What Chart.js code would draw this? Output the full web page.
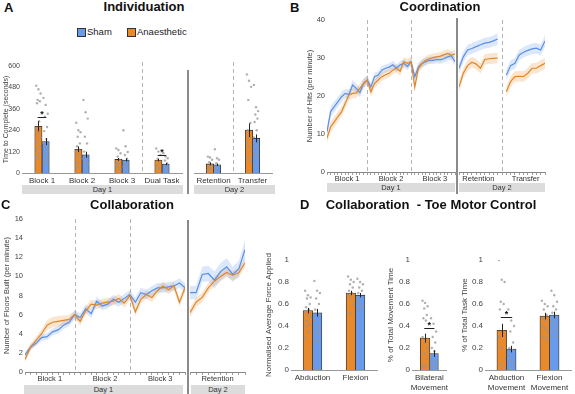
<!DOCTYPE html>
<html lang="en">
<head>
<meta charset="UTF-8">
<title>Toe motor learning</title>
<script src="https://cdn.jsdelivr.net/npm/chart.js@4"></script>
<style>
  body { margin: 0; background: #fff; font-family: "Liberation Sans", Arial, sans-serif; }
  #fig { position: relative; width: 575px; height: 394px; overflow: hidden; }
  .abs { position: absolute; }
  .letter { font-weight: bold; font-size: 13px; color: #111; }
  .title { font-weight: bold; font-size: 13px; color: #111; transform: translateX(-50%); white-space: nowrap; }
  .sep { background: #8a8a8a; width: 2px; }
  .day { background: #dcdcdc; font-size: 7.5px; color: #333; text-align: center; line-height: 9px; height: 9px; }
  .leg { font-size: 9.5px; color: #222; }
  .sw { width: 7px; height: 7px; border: 1px solid #333; }
</style>
</head>
<body>
<div id="fig"></div>
<script>
// ---- Panel A: Individuation (time to complete, seconds) ----
const catsA1 = ['Block 1', 'Block 2', 'Block 3', 'Dual Task'];
const anaesA1 = [262, 133, 76, 73];
const shamA1 = [176, 102, 73, 50];
const seAnaesA1 = [28, 16, 8, 7];
const seShamA1 = [20, 17, 9, 6];
const ptsAnaesA1 = [
  [489, 470, 446, 410, 402, 391, 290, 250, 225, 200, 175, 150, 130, 110, 90, 80],
  [282, 240, 229, 203, 166, 150, 130, 120, 100, 80, 60, 40, 30],
  [138, 129, 111, 92, 75, 60, 50, 40, 30, 20],
  [138, 120, 101, 80, 60, 40, 25]
];
const ptsShamA1 = [
  [421, 382, 332, 316, 258, 235, 190, 170, 150, 130, 110, 90, 70, 55],
  [410, 341, 305, 203, 166, 120, 100, 80, 60, 50, 30],
  [240, 150, 118, 101, 80, 60, 45, 35, 25],
  [111, 92, 83, 70, 55, 40, 25]
];
const catsA2 = ['Retention', 'Transfer'];
const anaesA2 = [51, 240];
const shamA2 = [46, 194];
const seAnaesA2 = [8, 38];
const seShamA2 = [7, 22];
const ptsAnaesA2 = [
  [92, 87, 74, 60, 45, 35, 25, 15],
  [553, 517, 483, 410, 280, 240, 201, 170, 150, 120, 90, 70]
];
const ptsShamA2 = [
  [133, 83, 74, 55, 40, 30, 20],
  [494, 369, 347, 328, 305, 286, 240, 200, 170, 140, 110, 90]
];
const ticksA = [0, 120, 240, 360, 480, 600];
const sigA1 = [{cat: 0, y: 312}, {cat: 3, y: 100}];

// ---- Panel B: Coordination (hits per minute) ----
const blocksB = ['Block 1', 'Block 2', 'Block 3'];
const shamB1 = [10.6, 15.9, 17.2, 18.5, 19.8, 20.7, 20.4, 22.9, 22.0, 20.9, 23.3, 24.2,
                22.4, 25.1, 25.5, 26.8, 27.3, 27.6, 28.2, 27.3, 28.2, 28.6, 27.8, 29.0,
                25.1, 27.7, 28.6, 29.0, 29.4, 29.4, 29.6, 29.5, 29.8, 30.3, 30.6, 29.0];
const anaesB1 = [8.9, 11.9, 13.2, 14.6, 15.9, 18.1, 20.3, 20.7, 20.8, 22.0, 23.3, 24.2,
                 21.1, 23.3, 24.2, 25.1, 25.6, 26.0, 26.8, 27.3, 26.5, 29.0, 28.6, 29.0,
                 22.4, 27.3, 28.5, 29.4, 29.8, 30.1, 30.3, 30.5, 30.9, 31.2, 30.7, 31.1];
const seShamB1 = [1.2, 1.5, 1.4, 1.3, 1.3, 1.2, 1.2, 1.3, 1.2, 1.2, 1.3, 1.2,
                  1.1, 1.1, 1.0, 1.1, 1.0, 1.0, 1.1, 1.0, 1.0, 1.1, 1.0, 1.0,
                  1.1, 1.0, 1.0, 1.0, 1.0, 1.0, 1.0, 1.0, 1.0, 1.0, 1.1, 1.1];
const seAnaesB1 = [1.2, 1.3, 1.4, 1.3, 1.3, 1.3, 1.4, 1.3, 1.3, 1.2, 1.2, 1.2,
                   1.3, 1.2, 1.2, 1.1, 1.1, 1.1, 1.1, 1.1, 1.2, 1.2, 1.2, 1.2,
                   1.3, 1.2, 1.1, 1.1, 1.1, 1.1, 1.1, 1.1, 1.1, 1.1, 1.1, 1.1];
const blocksB2 = ['Retention', 'Transfer'];
const shamBRet = [27.3, 30.3, 32.1, 32.5, 33.0, 33.5, 33.9, 34.1, 34.5, 35.0];
const anaesBRet = [22.4, 26.0, 28.0, 28.9, 28.4, 27.3, 29.6, 29.8, 29.9, 30.0];
const shamBTra = [25.5, 28.0, 28.6, 30.8, 31.5, 32.0, 32.4, 32.6, 32.1, 34.5];
const anaesBTra = [21.1, 23.8, 25.1, 25.2, 25.1, 26.0, 27.3, 27.3, 28.0, 28.6];
const seShamB2 = [1.4, 1.4, 1.4, 1.4, 1.4, 1.4, 1.4, 1.4, 1.4, 1.5];
const seAnaesB2 = [1.4, 1.4, 1.4, 1.4, 1.4, 1.4, 1.4, 1.4, 1.4, 1.4];
const ticksB = [0, 10, 20, 30, 40];

// ---- Panel C: Collaboration (floors built per minute) ----
const blocksC = ['Block 1', 'Block 2', 'Block 3'];
const shamC1 = [1.8, 2.6, 3.0, 3.6, 3.7, 4.2, 4.4, 4.9, 5.2, 6.0,
                5.7, 6.6, 6.1, 7.4, 6.9, 7.1, 7.6, 7.3, 7.7, 8.1,
                7.3, 8.3, 8.1, 8.5, 8.8, 8.8, 8.9, 9.0, 9.3, 8.8];
const anaesC1 = [1.3, 2.6, 3.3, 4.0, 4.9, 5.2, 5.3, 5.4, 5.5, 6.0,
                 5.3, 6.4, 7.1, 7.0, 7.2, 7.3, 7.4, 7.7, 7.2, 8.0,
                 6.3, 7.6, 8.1, 7.8, 8.5, 9.0, 8.6, 9.0, 7.3, 8.8];
const seShamC1 = [0.3, 0.3, 0.3, 0.35, 0.35, 0.35, 0.4, 0.4, 0.4, 0.45,
                  0.45, 0.45, 0.45, 0.45, 0.45, 0.45, 0.45, 0.45, 0.45, 0.45,
                  0.5, 0.5, 0.5, 0.5, 0.5, 0.5, 0.5, 0.5, 0.5, 0.5];
const seAnaesC1 = [0.3, 0.35, 0.4, 0.45, 0.5, 0.55, 0.55, 0.5, 0.45, 0.4,
                   0.45, 0.45, 0.45, 0.45, 0.45, 0.45, 0.45, 0.45, 0.45, 0.45,
                   0.45, 0.45, 0.45, 0.45, 0.45, 0.45, 0.45, 0.45, 0.45, 0.45];
const shamCRet = [8.3, 8.3, 10.2, 10.3, 9.6, 10.5, 11.0, 10.2, 10.8, 12.8];
const anaesCRet = [6.2, 7.3, 7.8, 8.8, 9.5, 10.0, 10.4, 10.1, 10.4, 11.4];
const seShamC2 = [0.7, 0.7, 0.8, 0.8, 0.9, 0.9, 0.9, 0.8, 0.8, 1.0];
const seAnaesC2 = [0.5, 0.5, 0.5, 0.5, 0.5, 0.5, 0.5, 0.5, 0.5, 0.5];
const ticksC = [0, 2, 4, 6, 8, 10, 12, 14, 16];

// ---- Panel D: Toe motor control ----
const ticksD = [0, 0.2, 0.4, 0.6, 0.8, 1];
const catsD1 = ['Abduction', 'Flexion'];
const anaesD1 = [0.54, 0.70];
const shamD1 = [0.52, 0.68];
const seAnaesD1 = [0.025, 0.02];
const seShamD1 = [0.035, 0.02];
const ptsAnaesD1 = [
  [0.72, 0.68, 0.66, 0.65, 0.60, 0.57, 0.55, 0.53, 0.50, 0.48, 0.45, 0.42, 0.40, 0.35, 0.29],
  [0.85, 0.82, 0.80, 0.78, 0.75, 0.72, 0.70, 0.68, 0.65, 0.60, 0.52]
];
const ptsShamD1 = [
  [0.81, 0.72, 0.70, 0.65, 0.60, 0.55, 0.50, 0.45, 0.40, 0.38, 0.35, 0.32, 0.27, 0.26],
  [0.83, 0.80, 0.78, 0.75, 0.72, 0.70, 0.66, 0.63, 0.60, 0.58, 0.55]
];
const catsD2 = [['Bilateral', 'Movement']];
const anaesD2 = [0.29];
const shamD2 = [0.15];
const seAnaesD2 = [0.04];
const seShamD2 = [0.03];
const ptsAnaesD2 = [[0.63, 0.61, 0.58, 0.56, 0.50, 0.47, 0.45, 0.30, 0.25, 0.20, 0.15, 0.10, 0.05, 0.03, 0.02]];
const ptsShamD2 = [[0.47, 0.42, 0.35, 0.30, 0.25, 0.20, 0.17, 0.12, 0.08, 0.05, 0.03, 0.02]];
const sigD2 = [{cat: 0, y: 0.38}];
const catsD3 = [['Abduction', 'Movement'], ['Flexion', 'Movement']];
const anaesD3 = [0.36, 0.49];
const shamD3 = [0.19, 0.50];
const seAnaesD3 = [0.06, 0.03];
const seShamD3 = [0.03, 0.03];
const ptsAnaesD3 = [
  [1.0, 0.82, 0.80, 0.62, 0.60, 0.55, 0.35, 0.30, 0.20, 0.10, 0.05, 0.02, 0.0],
  [0.63, 0.60, 0.58, 0.55, 0.50, 0.47, 0.45, 0.40, 0.38, 0.35, 0.30, 0.28]
];
const ptsShamD3 = [
  [0.55, 0.45, 0.40, 0.35, 0.25, 0.20, 0.18, 0.12, 0.08, 0.05, 0.02],
  [0.72, 0.68, 0.62, 0.58, 0.55, 0.52, 0.48, 0.45, 0.42, 0.38, 0.35, 0.30]
];
const sigD3 = [{cat: 0, y: 0.48}];

const ORANGE = '#e8892b', BLUE = '#6a9bea';
const ORANGE_LINE = '#e0862a', BLUE_LINE = '#5b8fe6';
const ORANGE_BAND = 'rgba(236,160,80,0.28)', BLUE_BAND = 'rgba(110,160,235,0.25)';

Chart.defaults.font.family = '"Liberation Sans", Arial, sans-serif';
Chart.defaults.color = '#444';
Chart.defaults.animation = false;
Chart.defaults.plugins.legend.display = false;
Chart.defaults.plugins.tooltip.enabled = false;

const fig = document.getElementById('fig');
const fmt = v => String(Math.round(v * 10) / 10);

function makeCanvas(box) {
  const cv = document.createElement('canvas');
  cv.className = 'abs';
  cv.width = box.w; cv.height = box.h;
  cv.style.left = box.left + 'px';
  cv.style.top = box.top + 'px';
  fig.appendChild(cv);
  return cv.getContext('2d');
}

function yScale(box, ticks, title, size) {
  return {
    display: box.wy > 0,
    min: ticks[0], max: ticks[ticks.length - 1],
    afterBuildTicks: s => { s.ticks = ticks.map(v => ({value: v})); },
    afterFit: s => { s.width = box.wy; },
    grid: {display: false, drawTicks: false},
    border: {display: false},
    ticks: {font: {size: size}, padding: 2, color: '#444', callback: v => fmt(v)},
    title: {display: !!title, text: title, font: {size: size}, color: '#444', padding: {top: box.tp || 2, bottom: 0}}
  };
}

// bar panel: two bars per category with error bars and individual points
function barChart(box, d) {
  const ctx = makeCanvas(box);
  const n = d.cats.length;
  const half = d.catPct / 4;
  const areaW = box.w - box.wy - (box.pl || 0) - (box.pr || 0);
  const thick = areaW / n * d.catPct / 2;
  const groups = [
    {vals: d.anaes, se: d.seAnaes, pts: d.ptsAnaes, col: ORANGE, off: -half},
    {vals: d.sham, se: d.seSham, pts: d.ptsSham, col: BLUE, off: half}
  ];
  const datasets = [];
  groups.forEach(g => datasets.push({
    type: 'bar', data: g.vals.map((v, c) => ({x: c + g.off, y: v})),
    backgroundColor: g.col, borderColor: '#333', borderWidth: 0.8,
    barThickness: thick, grouped: false, order: 2, xAxisID: 'xs'
  }));
  groups.forEach(g => {
    const pts = [];
    g.pts.forEach((list, c) => list.forEach((v, i) => {
      const jit = (((i * 3) % 7) / 6 - 0.5) * half * 1.2;
      pts.push({x: c + g.off + jit, y: v});
    }));
    datasets.push({type: 'scatter', data: pts, xAxisID: 'xs', pointRadius: 1.2,
      backgroundColor: 'rgba(150,150,150,0.75)', borderWidth: 0, order: 1});
  });

  const decor = {
    id: 'decor',
    beforeDatasetsDraw(chart) {
      const c = chart.ctx, xs = chart.scales.xs, a = chart.chartArea;
      c.save();
      c.strokeStyle = '#b5b5b5'; c.lineWidth = 1; c.setLineDash([4, 3]);
      (d.dashes || []).forEach(v => {
        const px = Math.round(xs.getPixelForValue(v)) + 0.5;
        c.beginPath(); c.moveTo(px, a.top - 4); c.lineTo(px, a.bottom); c.stroke();
      });
      c.restore();
    },
    afterDatasetsDraw(chart) {
      const c = chart.ctx, ys = chart.scales.y, xs = chart.scales.xs;
      c.save();
      c.strokeStyle = '#222'; c.lineWidth = 1;
      groups.forEach(g => {
        g.vals.forEach((v, i) => {
          const px = Math.round(xs.getPixelForValue(i + g.off)) + 0.5;
          c.beginPath();
          c.moveTo(px, ys.getPixelForValue(v - g.se[i]));
          c.lineTo(px, ys.getPixelForValue(v + g.se[i]));
          c.stroke();
        });
      });
      c.fillStyle = '#111';
      c.font = 'bold 9px "Liberation Sans", Arial';
      c.textAlign = 'center'; c.textBaseline = 'middle';
      (d.sig || []).forEach(s => {
        const py = Math.round(ys.getPixelForValue(s.y)) + 0.5;
        const x0 = xs.getPixelForValue(s.cat - half * 1.2), x1 = xs.getPixelForValue(s.cat + half * 1.2);
        c.beginPath(); c.moveTo(x0, py); c.lineTo(x1, py); c.stroke();
        c.fillText('*', (x0 + x1) / 2, py - 3);
      });
      c.restore();
    }
  };

  return new Chart(ctx, {
    type: 'bar',
    data: {labels: d.cats, datasets: datasets},
    options: {
      responsive: false,
      layout: {padding: {left: box.pl || 0, right: box.pr || 0, top: box.pt || 0, bottom: 0}},
      scales: {
        x: {type: 'category', labels: d.cats, offset: true, grid: {display: false, drawTicks: false},
            border: {color: '#999', width: 1},
            ticks: {font: {size: d.xFont || 8}, padding: 3, color: '#333', maxRotation: 0, autoSkip: false},
            afterFit: s => { s.height = box.hx; }},
        xs: {type: 'linear', display: false, offset: false, grid: {offset: false},
             min: -0.5, max: n - 0.5},
        y: yScale(box, d.yTicks, d.yTitle, d.yFont || 7)
      }
    },
    plugins: [decor]
  });
}

// line panel: mean lines with SE bands, split into blocks
function lineChart(box, d) {
  const ctx = makeCanvas(box);
  const shamL = [], anaesL = [], shamU = [], shamLo = [], anaesU = [], anaesLo = [];
  const centers = [], dashes = [];
  let x = 1;
  d.segs.forEach((s, k) => {
    if (k > 0 && d.gap) {
      [shamL, anaesL, shamU, shamLo, anaesU, anaesLo].forEach(arr => arr.push({x: x, y: null}));
      dashes.push(x);
      x++;
    }
    const start = x;
    s.sham.forEach((v, i) => {
      shamL.push({x: x, y: v});
      anaesL.push({x: x, y: s.anaes[i]});
      shamU.push({x: x, y: v + s.seSham[i]});
      shamLo.push({x: x, y: v - s.seSham[i]});
      anaesU.push({x: x, y: s.anaes[i] + s.seAnaes[i]});
      anaesLo.push({x: x, y: s.anaes[i] - s.seAnaes[i]});
      x++;
    });
    centers.push((start + x - 1) / 2);
    if (!d.gap && k < d.segs.length - 1) dashes.push(x - 1);
  });
  const xmax = x - 1;
  const band = (data, col, fill) => ({data: data, borderWidth: 0, pointRadius: 0, fill: fill,
    backgroundColor: col, order: 3, spanGaps: false});
  const datasets = [
    band(shamU, BLUE_BAND, '+1'), band(shamLo, BLUE_BAND, false),
    band(anaesU, ORANGE_BAND, '+1'), band(anaesLo, ORANGE_BAND, false),
    {data: shamL, borderColor: BLUE_LINE, borderWidth: 1.2, pointRadius: 0, fill: false, order: 1, spanGaps: false},
    {data: anaesL, borderColor: ORANGE_LINE, borderWidth: 1.2, pointRadius: 0, fill: false, order: 0, spanGaps: false}
  ];

  const decor = {
    id: 'decor',
    beforeDatasetsDraw(chart) {
      const c = chart.ctx, xs = chart.scales.x, a = chart.chartArea;
      c.save();
      c.strokeStyle = '#b5b5b5'; c.lineWidth = 1; c.setLineDash([4, 3]);
      dashes.forEach(v => {
        const px = Math.round(xs.getPixelForValue(v)) + 0.5;
        c.beginPath(); c.moveTo(px, a.top); c.lineTo(px, a.bottom); c.stroke();
      });
      c.restore();
    },
    afterDraw(chart) {
      const c = chart.ctx, xs = chart.scales.x, a = chart.chartArea;
      c.save();
      c.fillStyle = '#333';
      c.font = '7.5px "Liberation Sans", Arial';
      c.textAlign = 'center'; c.textBaseline = 'middle';
      d.labels.forEach((l, i) => c.fillText(l, xs.getPixelForValue(centers[i]), a.bottom + 7));
      c.restore();
    }
  };

  return new Chart(ctx, {
    type: 'line',
    data: {datasets: datasets},
    options: {
      responsive: false,
      layout: {padding: {left: box.pl || 0, right: box.pr || 0, top: box.pt || 0, bottom: 0}},
      elements: {line: {tension: 0}},
      scales: {
        x: {type: 'linear', min: 1, max: xmax,
            afterBuildTicks: s => { s.ticks = shamL.map(p => ({value: p.x})); },
            afterFit: s => { s.height = box.hx; },
            grid: {display: true, drawOnChartArea: false, drawTicks: true, tickLength: 3, color: '#888', lineWidth: 0.8},
            border: {color: '#888', width: 1},
            ticks: {callback: () => '', autoSkip: false, padding: 0}},
        y: yScale(box, d.yTicks, d.yTitle, 7.5)
      }
    },
    plugins: [decor]
  });
}

// Panel A
barChart({left: 0, top: 56, w: 186, h: 130, wy: 22, pt: 10, pr: 2, hx: 13},
  {cats: catsA1, anaes: anaesA1, sham: shamA1, seAnaes: seAnaesA1, seSham: seShamA1,
   ptsAnaes: ptsAnaesA1, ptsSham: ptsShamA1, catPct: 0.36, yTicks: ticksA,
   yTitle: 'Time to Complete (seconds)', yFont: 7, dashes: [2.5], sig: sigA1});
barChart({left: 190, top: 56, w: 86, h: 130, wy: 0, pl: 2, pt: 10, pr: 2, hx: 13},
  {cats: catsA2, anaes: anaesA2, sham: shamA2, seAnaes: seAnaesA2, seSham: seShamA2,
   ptsAnaes: ptsAnaesA2, ptsSham: ptsShamA2, catPct: 0.36, yTicks: ticksA, dashes: [0.5]});

// Panel B
lineChart({left: 301, top: 10, w: 156, h: 176, wy: 26, tp: 4, pt: 10, pr: 2, hx: 14},
  {segs: [0, 1, 2].map(b => ({
     sham: shamB1.slice(b * 12, b * 12 + 12), anaes: anaesB1.slice(b * 12, b * 12 + 12),
     seSham: seShamB1.slice(b * 12, b * 12 + 12), seAnaes: seAnaesB1.slice(b * 12, b * 12 + 12)})),
   gap: false, labels: blocksB, yTicks: ticksB, yTitle: 'Number of Hits (per minute)'});
lineChart({left: 457, top: 10, w: 90, h: 176, wy: 0, pl: 2, pt: 10, pr: 2, hx: 14},
  {segs: [
     {sham: shamBRet, anaes: anaesBRet, seSham: seShamB2, seAnaes: seAnaesB2},
     {sham: shamBTra, anaes: anaesBTra, seSham: seShamB2, seAnaes: seAnaesB2}],
   gap: true, labels: blocksB2, yTicks: ticksB});

// Panel C
lineChart({left: 0, top: 209, w: 187, h: 177, wy: 25, pt: 10, pr: 2, hx: 14},
  {segs: [0, 1, 2].map(b => ({
     sham: shamC1.slice(b * 10, b * 10 + 10), anaes: anaesC1.slice(b * 10, b * 10 + 10),
     seSham: seShamC1.slice(b * 10, b * 10 + 10), seAnaes: seAnaesC1.slice(b * 10, b * 10 + 10)})),
   gap: false, labels: blocksC, yTicks: ticksC, yTitle: 'Number of Floors Built (per minute)'});
lineChart({left: 188, top: 209, w: 59, h: 177, wy: 0, pl: 2, pt: 10, pr: 2, hx: 14},
  {segs: [{sham: shamCRet, anaes: anaesCRet, seSham: seShamC2, seAnaes: seAnaesC2}],
   gap: false, labels: ['Retention'], yTicks: ticksC});

// Panel D
barChart({left: 262, top: 250, w: 119, h: 144, wy: 29, pt: 10, pr: 2, hx: 24},
  {cats: catsD1, anaes: anaesD1, sham: shamD1, seAnaes: seAnaesD1, seSham: seShamD1,
   ptsAnaes: ptsAnaesD1, ptsSham: ptsShamD1, catPct: 0.43, yTicks: ticksD,
   yTitle: 'Normalised Average Force Applied', yFont: 8});
barChart({left: 384, top: 250, w: 69, h: 144, wy: 28, pt: 10, pr: 2, hx: 24},
  {cats: catsD2, anaes: anaesD2, sham: shamD2, seAnaes: seAnaesD2, seSham: seShamD2,
   ptsAnaes: ptsAnaesD2, ptsSham: ptsShamD2, catPct: 0.49, yTicks: ticksD,
   yTitle: '% of Total Movement Time', yFont: 8, sig: sigD2});
barChart({left: 458, top: 250, w: 117, h: 144, wy: 27, pt: 10, pr: 2, hx: 24},
  {cats: catsD3, anaes: anaesD3, sham: shamD3, seAnaes: seAnaesD3, seSham: seShamD3,
   ptsAnaes: ptsAnaesD3, ptsSham: ptsShamD3, catPct: 0.44, yTicks: ticksD,
   yTitle: '% of Total Task Time', yFont: 8, sig: sigD3});

// text, separators and day bands
const overlay = `
  <div class="abs letter" style="left:4px;top:0px">A</div>
  <div class="abs title" style="left:144px;top:-1px">Individuation</div>
  <div class="abs letter" style="left:290px;top:0px">B</div>
  <div class="abs title" style="left:440px;top:-1px">Coordination</div>
  <div class="abs letter" style="left:1px;top:197px">C</div>
  <div class="abs title" style="left:132px;top:197px">Collaboration</div>
  <div class="abs letter" style="left:300px;top:197px">D</div>
  <div class="abs title" style="left:431px;top:197px">Collaboration&nbsp; - Toe Motor Control</div>
  <div class="abs sw" style="left:77px;top:28px;background:${BLUE}"></div>
  <div class="abs leg" style="left:87px;top:26px">Sham</div>
  <div class="abs sw" style="left:127px;top:28px;background:${ORANGE}"></div>
  <div class="abs leg" style="left:137px;top:26px">Anaesthetic</div>
  <div class="abs sep" style="left:187px;top:70px;height:124px"></div>
  <div class="abs sep" style="left:456px;top:18px;height:176px"></div>
  <div class="abs sep" style="left:187px;top:220px;height:174px"></div>
  <div class="abs day" style="left:22px;top:185px;width:161px">Day 1</div>
  <div class="abs day" style="left:194px;top:185px;width:81px">Day 2</div>
  <div class="abs day" style="left:327px;top:183px;width:128px">Day 1</div>
  <div class="abs day" style="left:459px;top:183px;width:86px">Day 2</div>
  <div class="abs day" style="left:24px;top:385px;width:159px">Day 1</div>
  <div class="abs day" style="left:191px;top:385px;width:54px">Day 2</div>
`;
fig.insertAdjacentHTML('beforeend', overlay);
</script>
</body>
</html>
